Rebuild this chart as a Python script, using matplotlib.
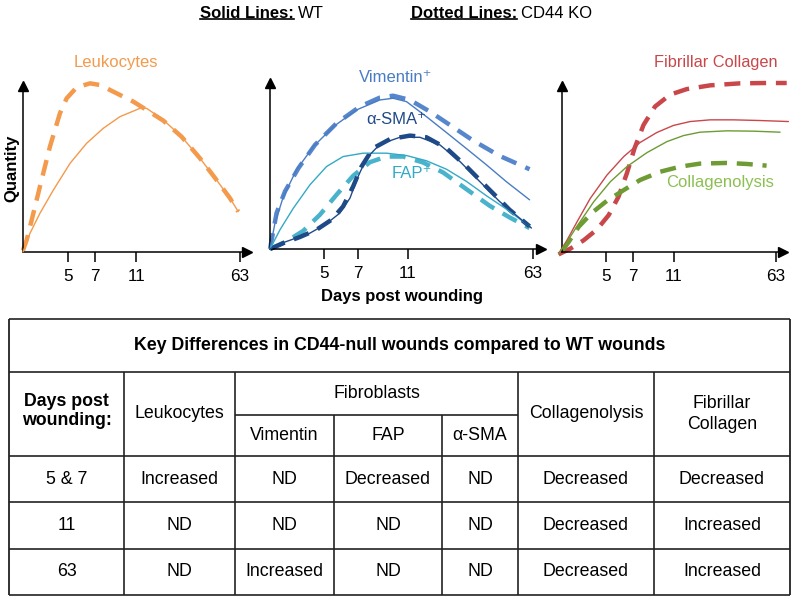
import matplotlib
matplotlib.use("Agg")
import matplotlib.pyplot as plt
from matplotlib.lines import Line2D

plt.rcParams['font.family'] = ['Liberation Sans', 'DejaVu Sans']

W, H = 800, 601

# x positions of the day ticks along each schematic axis (63 = end of axis)
tick_pos = [0.207, 0.333, 0.523, 1.0]
tick_days = ['5', '7', '11', '63']

# --- Leukocytes panel ---
leuko_wt_x = [0, 0.032, 0.078, 0.140, 0.217, 0.293, 0.370, 0.447, 0.539, 0.570, 0.647, 0.731, 0.816, 0.892, 0.954, 0.992]
leuko_wt_y = [0, 0.11, 0.229, 0.367, 0.525, 0.643, 0.732, 0.801, 0.850, 0.850, 0.781, 0.682, 0.554, 0.426, 0.318, 0.239]
leuko_ko_x = [0, 0.017, 0.040, 0.078, 0.124, 0.170, 0.201, 0.247, 0.309, 0.355, 0.416, 0.508, 0.570, 0.647, 0.731, 0.816, 0.892, 0.954, 0.992]
leuko_ko_y = [0.01, 0.071, 0.189, 0.387, 0.623, 0.820, 0.909, 0.974, 0.998, 0.988, 0.949, 0.890, 0.840, 0.777, 0.682, 0.554, 0.426, 0.318, 0.239]

# --- Fibroblast panel ---
vim_wt_x = [0, 0.019, 0.051, 0.101, 0.165, 0.241, 0.329, 0.418, 0.468, 0.519, 0.595, 0.671, 0.747, 0.823, 0.899, 0.987]
vim_wt_y = [0, 0.154, 0.311, 0.469, 0.606, 0.724, 0.823, 0.882, 0.892, 0.872, 0.783, 0.689, 0.594, 0.498, 0.398, 0.291]
vim_ko_x = [0, 0.010, 0.025, 0.057, 0.108, 0.171, 0.253, 0.342, 0.418, 0.468, 0.532, 0.608, 0.684, 0.772, 0.873, 0.987]
vim_ko_y = [0, 0.085, 0.213, 0.341, 0.478, 0.616, 0.744, 0.843, 0.896, 0.907, 0.882, 0.813, 0.734, 0.642, 0.551, 0.472]

sma_wt_x = [0, 0.038, 0.089, 0.152, 0.215, 0.266, 0.304, 0.335, 0.367, 0.418, 0.494, 0.570, 0.646, 0.722, 0.797, 0.873, 0.949, 0.994]
sma_wt_y = [0, 0.031, 0.059, 0.094, 0.150, 0.213, 0.301, 0.429, 0.537, 0.620, 0.661, 0.661, 0.616, 0.518, 0.400, 0.281, 0.183, 0.124]
sma_ko_x = [0, 0.051, 0.114, 0.177, 0.234, 0.278, 0.316, 0.348, 0.392, 0.456, 0.532, 0.595, 0.671, 0.747, 0.835, 0.911, 0.987]
sma_ko_y = [0, 0.035, 0.071, 0.114, 0.173, 0.252, 0.370, 0.488, 0.596, 0.650, 0.671, 0.661, 0.596, 0.488, 0.350, 0.232, 0.134]

fap_wt_x = [0, 0.038, 0.089, 0.152, 0.215, 0.278, 0.354, 0.443, 0.519, 0.595, 0.671, 0.747, 0.823, 0.899, 0.987]
fap_wt_y = [0, 0.114, 0.242, 0.380, 0.488, 0.547, 0.567, 0.567, 0.553, 0.522, 0.472, 0.400, 0.315, 0.236, 0.134]
fap_ko_x = [0, 0.063, 0.127, 0.190, 0.253, 0.316, 0.380, 0.443, 0.506, 0.582, 0.658, 0.747, 0.835, 0.911, 0.987]
fap_ko_y = [0, 0.045, 0.108, 0.203, 0.321, 0.433, 0.514, 0.547, 0.547, 0.512, 0.453, 0.354, 0.256, 0.187, 0.124]

# --- Collagen panel ---
fib_wt_x = [-0.016, 0.023, 0.070, 0.132, 0.210, 0.288, 0.365, 0.443, 0.521, 0.599, 0.692, 0.801, 0.925, 1.058]
fib_wt_y = [-0.010, 0.069, 0.178, 0.317, 0.455, 0.564, 0.648, 0.707, 0.749, 0.772, 0.782, 0.782, 0.778, 0.772]
fib_ko_x = [-0.016, 0.039, 0.101, 0.163, 0.218, 0.264, 0.303, 0.339, 0.381, 0.435, 0.505, 0.583, 0.692, 0.832, 0.956, 1.050]
fib_ko_y = [-0.014, 0.020, 0.069, 0.133, 0.218, 0.327, 0.465, 0.614, 0.752, 0.861, 0.931, 0.964, 0.986, 0.998, 1.0, 1.0]

cgl_wt_x = [-0.016, 0.023, 0.070, 0.148, 0.226, 0.303, 0.397, 0.490, 0.568, 0.645, 0.770, 0.894, 1.019]
cgl_wt_y = [-0.010, 0.059, 0.152, 0.297, 0.416, 0.505, 0.588, 0.653, 0.689, 0.709, 0.717, 0.715, 0.709]
cgl_ko_x = [0, 0.031, 0.078, 0.140, 0.210, 0.288, 0.365, 0.459, 0.552, 0.645, 0.770, 0.863, 0.956]
cgl_ko_y = [0.006, 0.059, 0.149, 0.232, 0.303, 0.366, 0.426, 0.475, 0.505, 0.523, 0.527, 0.521, 0.511]

# --- Table contents ---
table_title = 'Key Differences in CD44-null wounds compared to WT wounds'
days = ['5 & 7', '11', '63']
leukocytes = ['Increased', 'ND', 'ND']
vimentin = ['ND', 'ND', 'Increased']
fap = ['Decreased', 'ND', 'ND']
sma = ['ND', 'ND', 'ND']
collagenolysis = ['Decreased', 'Decreased', 'Decreased']
fibrillar = ['Decreased', 'Increased', 'Increased']

c_orange = '#f39a4c'
c_vim = '#4a7cc4'
c_vim_d = '#5686cc'
c_sma = '#1f4a88'
c_fap = '#33a9c6'
c_fap_d = '#4ab3cc'
c_red = '#c9474a'
c_green = '#6e9b33'
c_green_lab = '#8cbf52'

fig = plt.figure(figsize=(8, 6.01), dpi=100)


def make_panel(ox, oy, ux, uy, xtip):
    # ox, oy: origin in pixels (from top-left); ux, uy: pixels per unit
    x0, x1, y0, y1 = -0.08, 1.1, -0.06, 1.06
    ax = fig.add_axes([(ox + x0 * ux) / W, (H - oy + y0 * uy) / H,
                       (x1 - x0) * ux / W, (y1 - y0) * uy / H])
    ax.set_xlim(x0, x1)
    ax.set_ylim(y0, y1)
    ax.patch.set_visible(False)
    for s in ['top', 'right']:
        ax.spines[s].set_visible(False)
    ax.spines['bottom'].set_position(('data', 0))
    ax.spines['left'].set_position(('data', 0))
    ax.spines['bottom'].set_bounds(0, xtip - 0.02)
    ax.spines['left'].set_bounds(0, 0.98)
    ax.spines['bottom'].set_linewidth(1.1)
    ax.spines['left'].set_linewidth(1.1)
    ax.plot(xtip - 0.015, 0, marker='>', color='black', ms=7, clip_on=False)
    ax.plot(0, 0.985, marker='^', color='black', ms=7, clip_on=False)
    ax.set_yticks([])
    ax.set_xticks(tick_pos)
    ax.set_xticklabels(tick_days, fontsize=12.3)
    ax.tick_params(axis='x', direction='out', length=7, width=1.1, pad=5)
    return ax


def solid(ax, x, y, c):
    ax.plot(x, y, color=c, lw=1.0, solid_capstyle='round', clip_on=False, zorder=3)


def dashed(ax, x, y, c):
    ax.plot(x, y, color=c, lw=3.2, dashes=(3.6, 2.2), dash_capstyle='butt', clip_on=False, zorder=2)


ax1 = make_panel(23, 252, 217, 169, 1.046)
dashed(ax1, leuko_ko_x, leuko_ko_y, c_orange)
solid(ax1, leuko_wt_x, leuko_wt_y, c_orange)
fig.text(116 / W, 1 - 63 / H, 'Leukocytes', color=c_orange, fontsize=12, ha='center', va='center')

ax2 = make_panel(270, 249, 263, 169, 1.046)
dashed(ax2, vim_ko_x, vim_ko_y, c_vim_d)
dashed(ax2, fap_ko_x, fap_ko_y, c_fap_d)
dashed(ax2, sma_ko_x, sma_ko_y, c_sma)
solid(ax2, vim_wt_x, vim_wt_y, c_vim)
solid(ax2, fap_wt_x, fap_wt_y, c_fap)
solid(ax2, sma_wt_x, sma_wt_y, c_sma)
fig.text(396 / W, 1 - 78 / H, 'Vimentin\u207a', color=c_vim, fontsize=12, ha='center', va='center')
fig.text(396 / W, 1 - 120 / H, '\u03b1-SMA\u207a', color=c_sma, fontsize=12, ha='center', va='center')
fig.text(412 / W, 1 - 173 / H, 'FAP\u207a', color=c_fap, fontsize=12, ha='center', va='center')

ax3 = make_panel(562, 252, 214, 169, 1.05)
dashed(ax3, fib_ko_x, fib_ko_y, c_red)
dashed(ax3, cgl_ko_x, cgl_ko_y, c_green)
solid(ax3, fib_wt_x, fib_wt_y, c_red)
solid(ax3, cgl_wt_x, cgl_wt_y, c_green)
fig.text(716 / W, 1 - 63 / H, 'Fibrillar Collagen', color=c_red, fontsize=11.8, ha='center', va='center')
fig.text(720 / W, 1 - 182 / H, 'Collagenolysis', color=c_green_lab, fontsize=12, ha='center', va='center')

fig.text(12 / W, 1 - 168 / H, 'Quantity', rotation=90, fontsize=12, fontweight='bold', ha='center', va='center')
fig.text(402 / W, 1 - 297 / H, 'Days post wounding', fontsize=12, fontweight='bold', ha='center', va='center')

# header with underlined bold parts
t1 = fig.text(200 / W, 1 - 13 / H, 'Solid Lines:', fontsize=12, fontweight='bold', ha='left', va='center')
t3 = fig.text(411 / W, 1 - 13 / H, 'Dotted Lines:', fontsize=12, fontweight='bold', ha='left', va='center')
fig.canvas.draw()
r = fig.canvas.get_renderer()
for t, rest in [(t1, 'WT'), (t3, 'CD44 KO')]:
    bb = t.get_window_extent(r)
    fig.text((bb.x1 + 4) / W, 1 - 13 / H, rest, fontsize=12, ha='left', va='center')
    fig.add_artist(Line2D([bb.x0 / W, bb.x1 / W], [(bb.y0 + 1.5) / H] * 2, color='black', lw=1.2))

# ---- table ----
tab = fig.add_axes([0, 0, 1, 1])
tab.set_xlim(0, W)
tab.set_ylim(H, 0)
tab.axis('off')
tab.patch.set_visible(False)

col_x = [9, 124, 235, 334, 442, 518, 654, 790]
row_y = [319, 372, 415, 456, 502, 549, 595]
lc = '#222222'
tab.hlines([row_y[0], row_y[1], row_y[3], row_y[4], row_y[5], row_y[6]], col_x[0], col_x[-1], color=lc, lw=1.2)
tab.hlines(row_y[2], col_x[2], col_x[5], color=lc, lw=1.2)
tab.vlines([col_x[0], col_x[-1]], row_y[0], row_y[-1], color=lc, lw=1.3)
tab.vlines([col_x[1], col_x[2], col_x[5], col_x[6]], row_y[1], row_y[-1], color=lc, lw=1.2)
tab.vlines([col_x[3], col_x[4]], row_y[2], row_y[-1], color=lc, lw=1.2)

fs = 12.8
tab.text((col_x[0] + col_x[-1]) / 2, (row_y[0] + row_y[1]) / 2, table_title,
         fontsize=12.8, fontweight='bold', ha='center', va='center')
hy = (row_y[1] + row_y[3]) / 2
tab.text((col_x[0] + col_x[1]) / 2, hy - 3, 'Days post\nwounding:', fontsize=fs, fontweight='bold',
         ha='center', va='center', linespacing=1.1)
tab.text((col_x[1] + col_x[2]) / 2, hy, 'Leukocytes', fontsize=fs, ha='center', va='center')
tab.text((col_x[2] + col_x[5]) / 2, (row_y[1] + row_y[2]) / 2, 'Fibroblasts', fontsize=fs, ha='center', va='center')
sub_y = (row_y[2] + row_y[3]) / 2
for i, lab in enumerate(['Vimentin', 'FAP', '\u03b1-SMA']):
    tab.text((col_x[2 + i] + col_x[3 + i]) / 2, sub_y, lab, fontsize=fs, ha='center', va='center')
tab.text((col_x[5] + col_x[6]) / 2, hy, 'Collagenolysis', fontsize=fs, ha='center', va='center')
tab.text((col_x[6] + col_x[7]) / 2, hy, 'Fibrillar\nCollagen', fontsize=fs, ha='center', va='center', linespacing=1.3)

cols = [days, leukocytes, vimentin, fap, sma, collagenolysis, fibrillar]
for j, col in enumerate(cols):
    for i, val in enumerate(col):
        tab.text((col_x[j] + col_x[j + 1]) / 2, (row_y[3 + i] + row_y[4 + i]) / 2, val,
                 fontsize=fs, ha='center', va='center')

fig.savefig('out.png', dpi=100)
